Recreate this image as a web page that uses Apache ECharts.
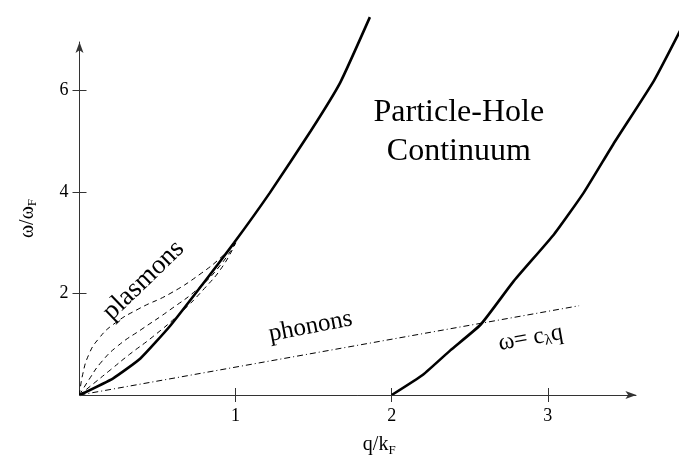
<!DOCTYPE html>
<html>
<head>
<meta charset="utf-8">
<script src="https://cdn.jsdelivr.net/npm/echarts@6/dist/echarts.min.js"></script>
<style>
  html, body { margin: 0; padding: 0; background: #fff; }
  #chart { width: 679px; height: 462px; }
</style>
</head>
<body>
<div id="chart"></div>
<script>
// particle-hole continuum edges (q/kF, w/wF)
const edgeLeft = [[0, 0], [0.216, 0.33], [0.39, 0.72], [0.58, 1.36], [0.79, 2.19], [0.99, 3.0], [1.22, 3.99], [1.48, 5.2], [1.67, 6.16], [1.86, 7.45]]
const edgeRight = [[2, 0], [2.2, 0.4], [2.375, 0.88], [2.57, 1.39], [2.78, 2.24], [3.04, 3.17], [3.23, 3.99], [3.42, 4.95], [3.68, 6.2], [3.85, 7.2]]
// plasmon branches (dashed)
const plasmonA = [[0, 0], [0.02, 0.4], [0.06, 0.8], [0.12, 1.1], [0.22, 1.4], [0.38, 1.7], [0.58, 2.0], [0.78, 2.4], [0.92, 2.75], [1.0, 3.0]]
const plasmonB = [[0, 0], [0.06, 0.3], [0.14, 0.65], [0.25, 0.98], [0.4, 1.3], [0.58, 1.68], [0.76, 2.1], [0.9, 2.55], [1.0, 3.0]]
const plasmonC = [[0, 0], [0.1, 0.25], [0.2, 0.5], [0.32, 0.8], [0.47, 1.15], [0.64, 1.6], [0.8, 2.1], [0.92, 2.55], [1.0, 3.0]]
// phonon line w = c q
const phonon = [[0, 0], [3.2, 1.76]]
const xTicks = [1, 2, 3]
const yTicks = [2, 4, 6]
const xArrowEnd = 3.567

const serif = 'Liberation Serif'
const chart = echarts.init(document.getElementById('chart'))

const axisColor = '#333'
const baseX = {
  type: 'value', min: 0, max: 3.84,
  splitLine: { show: false }
}
const baseY = {
  type: 'value', min: 0, max: 6.96,
  splitLine: { show: false }
}
const subRich = {
  a: { fontFamily: serif, fontSize: 20, color: '#000' },
  s: { fontFamily: serif, fontSize: 13, color: '#000', padding: [11, 0, 0, 0] }
}

const option = {
  backgroundColor: '#fff',
  animation: false,
  grid: { left: 79.5, right: 0, top: 42, bottom: 58 },
  xAxis: [
    Object.assign({}, baseX, {
      position: 'bottom',
      axisLine: { show: false },
      axisTick: { show: true, length: 7, customValues: xTicks, lineStyle: { color: axisColor } },
      axisLabel: { customValues: xTicks, margin: 12, color: '#000', fontFamily: serif, fontSize: 18 },
      name: '{a|q/k}{s|F}',
      nameLocation: 'middle',
      nameGap: 38,
      nameTextStyle: { rich: subRich }
    }),
    Object.assign({}, baseX, {
      position: 'bottom',
      axisLine: { show: false },
      axisTick: { show: true, inside: true, length: 7, customValues: xTicks, lineStyle: { color: axisColor } },
      axisLabel: { show: false }
    })
  ],
  yAxis: [
    Object.assign({}, baseY, {
      position: 'left',
      axisLine: { show: true, symbol: ['none', 'arrow'], symbolSize: [6, 11], lineStyle: { color: axisColor, width: 1 } },
      axisTick: { show: true, length: 7, customValues: yTicks, lineStyle: { color: axisColor } },
      axisLabel: { customValues: yTicks, margin: 11, color: '#000', fontFamily: serif, fontSize: 18 },
      name: '{a|ω/ω}{s|F}',
      nameLocation: 'middle',
      nameGap: 40,
      nameRotate: 90,
      nameTextStyle: { rich: subRich }
    }),
    Object.assign({}, baseY, {
      position: 'left',
      axisLine: { show: false },
      axisTick: { show: true, inside: true, length: 7, customValues: yTicks, lineStyle: { color: axisColor } },
      axisLabel: { show: false }
    })
  ],
  series: [
    { type: 'line', data: edgeLeft, smooth: 0.15, clip: false, showSymbol: false, lineStyle: { color: '#000', width: 2.6 } },
    { type: 'line', data: edgeRight, smooth: 0.15, clip: false, showSymbol: false, lineStyle: { color: '#000', width: 2.6 } },
    { type: 'line', data: plasmonA, smooth: true, showSymbol: false, lineStyle: { color: '#000', width: 1, type: [5, 4] } },
    { type: 'line', data: plasmonB, smooth: true, showSymbol: false, lineStyle: { color: '#000', width: 1, type: [5, 4] } },
    { type: 'line', data: plasmonC, smooth: true, showSymbol: false, lineStyle: { color: '#000', width: 1, type: [5, 4] } },
    {
      type: 'line', data: phonon, showSymbol: false, lineStyle: { color: '#000', width: 1, type: [6, 3, 1, 3] },
      // horizontal axis with arrow, shorter than the plotting range
      markLine: {
        silent: true,
        symbol: ['none', 'arrow'],
        symbolSize: [6, 11],
        label: { show: false },
        lineStyle: { color: axisColor, width: 1, type: 'solid' },
        data: [[{ coord: [0, 0] }, { coord: [xArrowEnd, 0] }]]
      }
    }
  ]
}
chart.setOption(option)

// text annotations placed at data coordinates
function at(x, y) { return chart.convertToPixel({ gridIndex: 0 }, [x, y]) }
function label(text, x, y, size, deg, rich) {
  const p = at(x, y)
  return {
    type: 'text', x: p[0], y: p[1], rotation: deg * Math.PI / 180,
    style: { text: text, fontFamily: serif, fontSize: size, fill: '#000', align: 'center', verticalAlign: 'middle', rich: rich }
  }
}
chart.setOption({
  graphic: [
    label('Particle-Hole', 2.43, 5.56, 32, 0),
    label('Continuum', 2.43, 4.79, 32, 0),
    label('plasmons', 0.41, 2.26, 27, 44),
    label('phonons', 1.48, 1.35, 25, 11),
    label('{a|ω= c}{s|λ}{a|q}', 2.89, 1.12, 24, 10, {
      a: { fontFamily: serif, fontSize: 24, color: '#000' },
      s: { fontFamily: serif, fontSize: 15, color: '#000', padding: [10, 0, 0, 0] }
    })
  ]
})
</script>
</body>
</html>
